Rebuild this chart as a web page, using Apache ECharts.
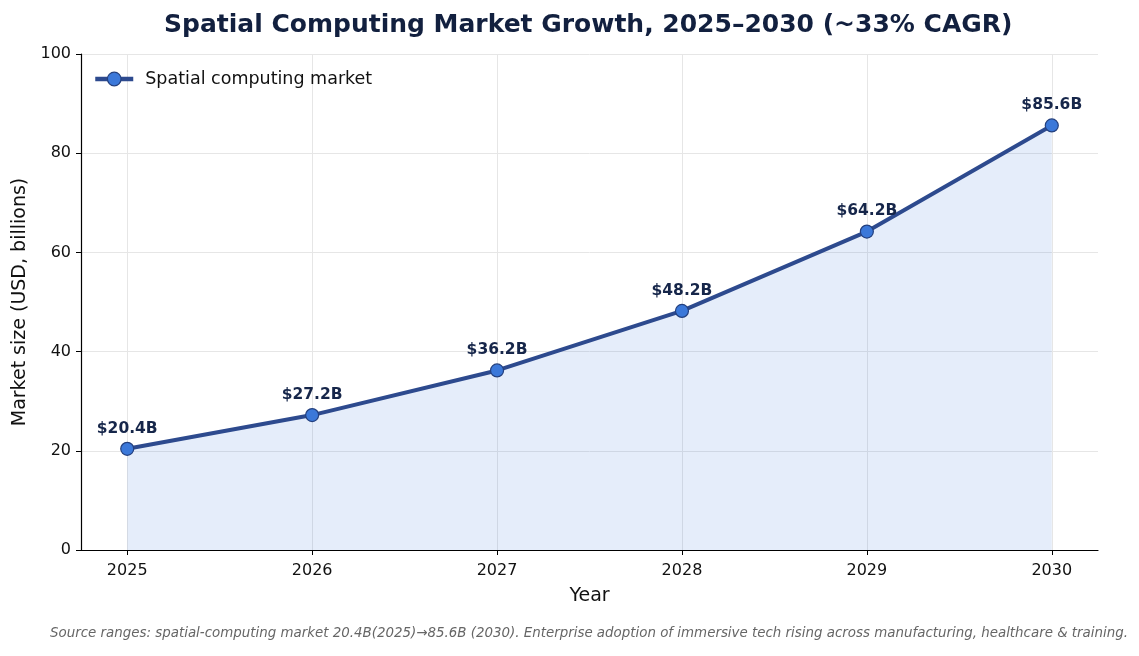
<!DOCTYPE html>
<html>
<head>
<meta charset="utf-8">
<script src="https://cdn.jsdelivr.net/npm/echarts@6/dist/echarts.min.js"></script>
<style>
html, body { margin: 0; padding: 0; background: #fff; }
#chart { width: 1139px; height: 656px; }
</style>
</head>
<body>
<div id="chart"></div>
<script>
// data
const years = [2025, 2026, 2027, 2028, 2029, 2030]
const marketSize = [20.4, 27.2, 36.2, 48.2, 64.2, 85.6]
const seriesName = 'Spatial computing market'

const chart = echarts.init(document.getElementById('chart'))
const font = 'DejaVu Sans'

chart.setOption({
	animation: false,
	textStyle: { fontFamily: font },
	title: {
		text: 'Spatial Computing Market Growth, 2025–2030 (~33% CAGR)',
		left: 159,
		top: 8,
		textStyle: { fontFamily: font, fontSize: 25, fontWeight: 'bold', color: '#12203f' }
	},
	legend: {
		left: 88,
		top: 65,
		itemWidth: 38,
		itemHeight: 17,
		itemGap: 10,
		textStyle: { fontFamily: font, fontSize: 17.5, color: '#111', padding: [0, 0, 0, 7] },
		itemStyle: { color: '#3b78d9', borderColor: '#24407e', borderWidth: 1.2 },
		lineStyle: { color: '#2d4a8e', width: 4.5 },
		data: [seriesName]
	},
	grid: { left: 81, right: 41, top: 54, bottom: 106, outerBoundsMode: 'none' },
	xAxis: {
		type: 'value',
		min: 2024.75,
		max: 2030.25,
		name: 'Year',
		nameLocation: 'middle',
		nameGap: 37,
		nameTextStyle: { fontFamily: font, fontSize: 19, color: '#111' },
		axisLine: { onZero: false, lineStyle: { color: '#000', width: 1.2 } },
		axisTick: { show: true, length: 5, lineStyle: { color: '#000' }, customValues: years },
		axisLabel: { fontSize: 16, color: '#111', margin: 13, customValues: years, formatter: v => String(v) },
		splitLine: { show: true, lineStyle: { color: '#e6e6e6', width: 1 } }
	},
	yAxis: {
		type: 'value',
		min: 0,
		max: 100,
		interval: 20,
		name: 'Market size (USD, billions)',
		nameLocation: 'middle',
		nameGap: 50,
		nameTextStyle: { fontFamily: font, fontSize: 19, color: '#111' },
		axisLine: { show: true, lineStyle: { color: '#000', width: 1.2 } },
		axisTick: { show: true, length: 5, lineStyle: { color: '#000' } },
		axisLabel: { fontSize: 16, color: '#111', margin: 10 },
		splitLine: { show: true, lineStyle: { color: '#e6e6e6', width: 1 } }
	},
	series: [{
		name: seriesName,
		type: 'line',
		data: years.map((y, i) => [y, marketSize[i]]),
		symbol: 'circle',
		symbolSize: 13,
		lineStyle: { color: '#2d4a8e', width: 4 },
		itemStyle: { color: '#3b78d9', borderColor: '#24407e', borderWidth: 1.2 },
		areaStyle: { color: 'rgb(59,120,217)', opacity: 0.135, origin: 'start' },
		label: {
			show: true,
			position: 'top',
			distance: 5,
			formatter: p => '$' + p.value[1].toFixed(1) + 'B',
			fontFamily: font,
			fontSize: 15.5,
			fontWeight: 'bold',
			color: '#16264a'
		},
		z: 3
	}],
	graphic: [{
		type: 'text',
		right: 11,
		top: 627,
		style: {
			text: 'Source ranges: spatial-computing market 20.4B(2025)→85.6B (2030). Enterprise adoption of immersive tech rising across manufacturing, healthcare & training.',
			font: 'italic 13.4px "DejaVu Sans"',
			fill: '#666'
		}
	}]
})
</script>
</body>
</html>
